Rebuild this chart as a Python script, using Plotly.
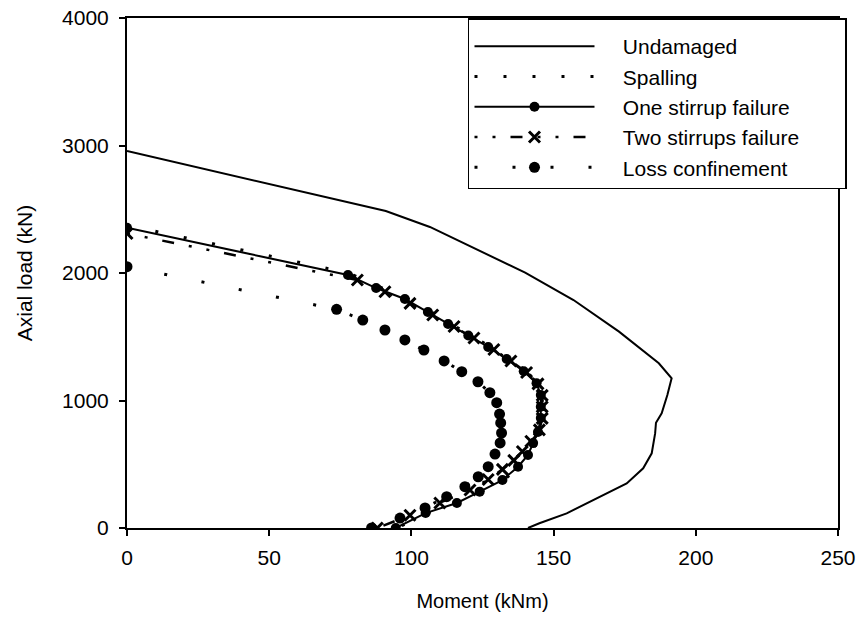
import plotly.graph_objects as go

# Undamaged
und_m = [0, 91, 106.5, 140, 157, 173, 187, 191.5, 190, 188, 186, 185.7, 184.5, 181.5, 175.7, 164, 154.6, 145, 141]
und_p = [2957, 2486, 2361, 2003, 1788, 1540, 1292, 1174, 1043, 900, 826, 742, 586, 468, 350, 220, 115, 37, 0]

# Spalling
spa_m = [0, 78, 88, 98, 106, 113, 120.5, 127.5, 134, 140, 144.5, 146, 146, 146, 145, 143.3, 141.5, 138, 132.5, 124.5, 116.5, 105.5, 95]
spa_p = [2375, 2000, 1897, 1808, 1708, 1612, 1517, 1425, 1330, 1235, 1140, 1045, 951, 863, 753, 666, 573, 481, 376, 285, 196, 117, 0]

# One stirrup failure
one_m = [0, 77.7, 87.6, 97.7, 105.8, 112.9, 120, 127, 133.5, 139.5, 144, 145.5, 145.5, 145.5, 144.5, 142.8, 141, 137.5, 132, 124, 116, 105, 94.5]
one_p = [2355, 1984, 1882, 1796, 1694, 1600, 1510, 1420, 1325, 1230, 1135, 1043, 951, 863, 753, 666, 573, 481, 376, 285, 196, 117, 0]

# Two stirrups failure
two_m = [0, 81, 90.7, 99.5, 107.5, 115, 122, 129, 135, 140.5, 144.5, 146, 146, 146, 145, 142, 139, 136, 132, 127, 120.6, 110, 99.5, 88]
two_p = [2310, 1945, 1853, 1762, 1671, 1580, 1490, 1400, 1310, 1220, 1130, 1040, 950, 860, 770, 680, 600, 530, 460, 380, 298, 196, 100, 0]

# Loss confinement
los_m = [0, 73.7, 82.9, 90.7, 97.7, 104.4, 111.5, 117.7, 123.4, 127.6, 130, 131, 131.4, 131.7, 131.2, 129.4, 127, 123.5, 118.8, 112.4, 104.8, 96, 86]
los_p = [2050, 1715, 1631, 1553, 1475, 1396, 1310, 1226, 1147, 1061, 983, 894, 824, 745, 667, 580, 481, 402, 324, 246, 157, 78, 0]

x_ticks = [0, 50, 100, 150, 200, 250]
y_ticks = [0, 1000, 2000, 3000, 4000]

FONT = "Arial, Liberation Sans, sans-serif"
PAD = "\u00a0" * 4

fig = go.Figure()
fig.add_trace(go.Scatter(x=und_m, y=und_p, mode="lines", name=PAD + "Undamaged",
                         line=dict(color="black", width=2)))
fig.add_trace(go.Scatter(x=spa_m, y=spa_p, mode="lines", name=PAD + "Spalling",
                         line=dict(color="black", width=3, dash="3px,26px")))
fig.add_trace(go.Scatter(x=one_m, y=one_p, mode="lines+markers", name=PAD + "One stirrup failure",
                         line=dict(color="black", width=2),
                         marker=dict(symbol="circle", size=10, color="black")))
fig.add_trace(go.Scatter(x=two_m, y=two_p, mode="lines+markers",
                         name=PAD + "Two stirrups failure" + "\u00a0" * 7,
                         line=dict(color="black", width=2.5, dash="3px,15px,3px,15px,12px,15px"),
                         marker=dict(symbol="x-thin", size=11, color="black",
                                     line=dict(color="black", width=3))))
fig.add_trace(go.Scatter(x=los_m, y=los_p, mode="lines+markers", name=PAD + "Loss confinement",
                         line=dict(color="black", width=3, dash="3px,35px"),
                         marker=dict(symbol="circle", size=11, color="black")))

fig.update_layout(
    width=862, height=624,
    margin=dict(l=127, r=24, t=18, b=96, autoexpand=False),
    paper_bgcolor="white", plot_bgcolor="white",
    font=dict(family=FONT, size=20, color="black"),
    showlegend=True,
    legend=dict(x=0.4796, y=1, xanchor="left", yanchor="top",
                bgcolor="white", bordercolor="black", borderwidth=1.5,
                font=dict(family=FONT, size=21, color="black"),
                title=dict(text="\u00a0", font=dict(size=5)),
                itemwidth=120, tracegroupgap=0),
    xaxis=dict(range=[0, 250], tickvals=x_ticks, ticks="outside", ticklen=6,
               tickwidth=1.5, tickcolor="black", tickfont=dict(size=21),
               ticklabelstandoff=4, automargin=False,
               showline=True, linecolor="black", linewidth=2, mirror=True,
               showgrid=False, zeroline=False,
               title=dict(text="Moment (kNm)", font=dict(size=20), standoff=26)),
    yaxis=dict(range=[0, 4000], tickvals=y_ticks, ticks="outside", ticklen=6,
               tickwidth=1.5, tickcolor="black", tickfont=dict(size=21),
               ticklabelstandoff=6, automargin=False,
               showline=True, linecolor="black", linewidth=2, mirror=True,
               showgrid=False, zeroline=False,
               title=dict(text="Axial load (kN)", font=dict(size=21), standoff=24)),
)

fig.write_html("out.html")
